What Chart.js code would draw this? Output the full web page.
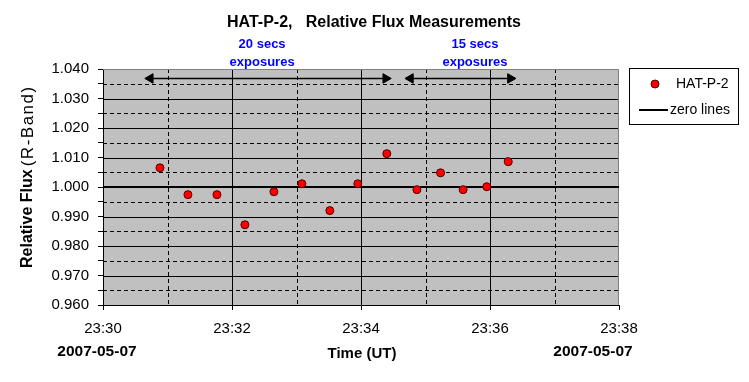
<!DOCTYPE html>
<html>
<head>
<meta charset="utf-8">
<script src="https://cdn.jsdelivr.net/npm/chart.js@4/dist/chart.umd.min.js"></script>
<style>
  html, body { margin: 0; padding: 0; background: #fff; }
  #wrap { width: 749px; height: 382px; }
</style>
</head>
<body>
<div id="wrap"><canvas id="fluxChart" width="749" height="382"></canvas></div>
<script>
// measurements (UT time, relative flux)
const fluxTimes = ["23:30:53", "23:31:19", "23:31:46", "23:32:12", "23:32:39", "23:33:05", "23:33:31",
                   "23:33:57", "23:34:24", "23:34:52", "23:35:14", "23:35:35", "23:35:57", "23:36:17"];
const fluxValues = [1.0065, 0.9974, 0.9974, 0.9872, 0.9984, 1.0011, 0.9920,
                    1.0011, 1.0113, 0.9991, 1.0048, 0.9991, 1.0001, 1.0086];

const zeroTimes = ["23:30:00", "23:38:00"];
const zeroValues = [1.000, 1.000];

// exposure arrows
const arrow20Times = ["23:30:44", "23:34:23"];
const arrow15Times = ["23:34:46", "23:36:19"];
const arrowLevel = 1.0368;
const exposureLabels = [["20 secs", "exposures"], ["15 secs", "exposures"]];
const exposureLabelTimes = ["23:32:28", "23:35:46"];

const axisStart = "23:30:00";
const axisEnd = "23:38:00";
const yMin = 0.960, yMax = 1.040;
const dateLabel = "2007-05-07";

const FONT = "'Liberation Sans', Arial, Helvetica, sans-serif";
Chart.defaults.font.family = FONT;
Chart.defaults.color = "#000";

function toSec(t) {
  const p = t.split(":").map(Number);
  return p[0] * 3600 + p[1] * 60 + (p[2] || 0);
}
function pts(times, values) {
  return times.map((t, i) => ({ x: toSec(t), y: values[i] }));
}
function fmtTime(s) {
  const h = Math.floor(s / 3600), m = Math.floor((s % 3600) / 60);
  return h + ":" + String(m).padStart(2, "0");
}
const isEvenMin = v => Math.round(v / 60) % 2 === 0;
const isMajorY = v => Math.abs(Math.round(v * 100) - v * 100) < 1e-6;

const bgPlugin = {
  id: "bg",
  beforeDraw(chart) {
    const { ctx, chartArea: a } = chart;
    ctx.save();
    ctx.fillStyle = "#fff";
    ctx.fillRect(0, 0, chart.width, chart.height);
    ctx.fillStyle = "#c0c0c0";
    ctx.fillRect(a.left, a.top, a.right - a.left, a.bottom - a.top);
    ctx.restore();
  }
};

const gridPlugin = {
  id: "grid",
  beforeDatasetsDraw(chart) {
    const { ctx, chartArea: a, scales } = chart;
    ctx.save();
    ctx.strokeStyle = "#000";
    ctx.lineWidth = 1;
    scales.x.ticks.forEach(t => {
      const px = Math.round(scales.x.getPixelForValue(t.value)) + 0.5;
      if (px <= a.left + 1 || px >= a.right - 1) return;
      ctx.setLineDash(isEvenMin(t.value) ? [] : [4, 3]);
      ctx.beginPath(); ctx.moveTo(px, a.top); ctx.lineTo(px, a.bottom); ctx.stroke();
    });
    scales.y.ticks.forEach(t => {
      const py = Math.round(scales.y.getPixelForValue(t.value)) + 0.5;
      if (py <= a.top + 1 || py >= a.bottom - 1) return;
      ctx.setLineDash(isMajorY(t.value) ? [] : [4, 3]);
      ctx.beginPath(); ctx.moveTo(a.left, py); ctx.lineTo(a.right, py); ctx.stroke();
    });
    ctx.setLineDash([]);
    ctx.strokeStyle = "#808080";
    ctx.beginPath();
    ctx.moveTo(a.left, a.top + 0.5); ctx.lineTo(a.right - 0.5, a.top + 0.5); ctx.lineTo(a.right - 0.5, a.bottom);
    ctx.stroke();
    ctx.restore();
  }
};

const textPlugin = {
  id: "texts",
  afterDraw(chart) {
    const { ctx, scales } = chart;
    ctx.save();
    ctx.fillStyle = "#000";
    ctx.textAlign = "center";
    ctx.textBaseline = "middle";
    ctx.font = "bold 16px " + FONT;
    ctx.fillText("HAT-P-2,   Relative Flux Measurements", 374, 23);

    ctx.fillStyle = "#0000ff";
    ctx.font = "bold 13px " + FONT;
    exposureLabels.forEach((lines, i) => {
      const px = scales.x.getPixelForValue(toSec(exposureLabelTimes[i]));
      ctx.fillText(lines[0], px, 44);
      ctx.fillText(lines[1], px, 62);
    });

    ctx.fillStyle = "#000";
    ctx.font = "bold 15.5px " + FONT;
    ctx.fillText(dateLabel, 97, 352);
    ctx.fillText(dateLabel, 593, 352);
    ctx.font = "bold 15px " + FONT;
    ctx.fillText("Time (UT)", 362, 354);

    // y title, bold + regular parts
    ctx.save();
    ctx.translate(28, 268);
    ctx.rotate(-Math.PI / 2);
    ctx.textAlign = "left";
    ctx.font = "bold 16px " + FONT;
    ctx.fillText("Relative Flux", 0, 0);
    const w = ctx.measureText("Relative Flux").width;
    ctx.font = "17px " + FONT;
    if ("letterSpacing" in ctx) ctx.letterSpacing = "1.5px";
    ctx.fillText("(R-Band)", w + 3, 0);
    ctx.restore();

    // legend
    const ds = chart.data.datasets;
    ctx.strokeStyle = "#000";
    ctx.lineWidth = 1;
    ctx.strokeRect(629.5, 68.5, 109, 56);
    ctx.beginPath();
    ctx.arc(655, 84, ds[0].pointRadius, 0, Math.PI * 2);
    ctx.fillStyle = ds[0].pointBackgroundColor;
    ctx.fill();
    ctx.strokeStyle = ds[0].pointBorderColor;
    ctx.stroke();
    ctx.strokeStyle = ds[1].borderColor;
    ctx.lineWidth = ds[1].borderWidth;
    ctx.beginPath(); ctx.moveTo(639, 110); ctx.lineTo(668, 110); ctx.stroke();
    ctx.fillStyle = "#000";
    ctx.textAlign = "left";
    ctx.font = "14px " + FONT;
    ctx.fillText(ds[0].label, 676, 84);
    ctx.fillText(ds[1].label, 670, 110);
    ctx.restore();
  }
};

const arrowStyle = {
  type: "line",
  borderColor: "#000",
  borderWidth: 1.5,
  pointStyle: "triangle",
  pointRadius: 5.5,
  pointHoverRadius: 5.5,
  pointRotation: [270, 90],
  pointBackgroundColor: "#000",
  pointBorderColor: "#000",
  pointBorderWidth: 1
};

new Chart(document.getElementById("fluxChart"), {
  type: "scatter",
  data: {
    datasets: [
      {
        label: "HAT-P-2",
        data: pts(fluxTimes, fluxValues),
        pointRadius: 4,
        pointBackgroundColor: "#ff0000",
        pointBorderColor: "#500000",
        pointBorderWidth: 1,
        showLine: false,
        order: 0
      },
      {
        label: "zero lines",
        type: "line",
        data: pts(zeroTimes, zeroValues),
        borderColor: "#000",
        borderWidth: 2,
        pointRadius: 0,
        order: 1
      },
      Object.assign({ label: "20s", data: pts(arrow20Times, [arrowLevel, arrowLevel]), order: 2 }, arrowStyle),
      Object.assign({ label: "15s", data: pts(arrow15Times, [arrowLevel, arrowLevel]), order: 2 }, arrowStyle)
    ]
  },
  options: {
    responsive: false,
    devicePixelRatio: 1,
    animation: false,
    layout: { padding: { left: 0, right: 130, top: 69, bottom: 0 } },
    plugins: {
      legend: { display: false },
      title: { display: false },
      tooltip: { enabled: false }
    },
    scales: {
      x: {
        type: "linear",
        min: toSec(axisStart),
        max: toSec(axisEnd),
        afterFit(s) { s.height = 77; },
        ticks: {
          stepSize: 60,
          autoSkip: false,
          maxRotation: 0,
          padding: 10,
          font: { size: 15 },
          callback: v => isEvenMin(v) ? fmtTime(v) : ""
        },
        grid: {
          drawOnChartArea: false,
          tickLength: 5,
          tickColor: c => isEvenMin(c.tick.value) ? "#000" : "rgba(0,0,0,0)"
        },
        border: { color: "#000", width: 1 }
      },
      y: {
        min: yMin,
        max: yMax,
        afterFit(s) { s.width = 103; },
        ticks: {
          stepSize: 0.005,
          autoSkip: false,
          padding: 9,
          font: { size: 15 },
          callback: v => isMajorY(v) ? v.toFixed(3) : ""
        },
        grid: {
          drawOnChartArea: false,
          tickLength: 5,
          tickColor: "#000"
        },
        border: { color: "#000", width: 1 }
      }
    }
  },
  plugins: [bgPlugin, gridPlugin, textPlugin]
});
</script>
</body>
</html>
